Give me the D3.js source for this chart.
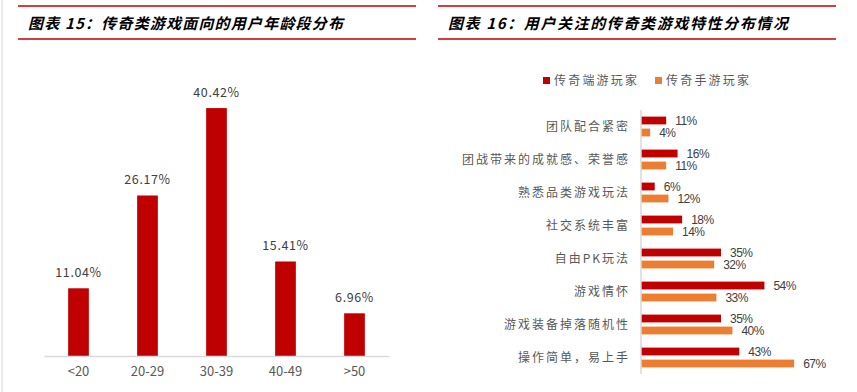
<!DOCTYPE html>
<html>
<head>
<meta charset="utf-8">
<script src="https://cdn.jsdelivr.net/npm/d3@7"></script>
<style>
  body { margin: 0; background: #fff; }
  text { font-family: "Noto Sans CJK SC", "Noto Sans", sans-serif; }
</style>
</head>
<body>
<script>
// chart data
var ageCats = ["<20", "20-29", "30-39", "40-49", ">50"];
var ageVals = [11.04, 26.17, 40.42, 15.41, 6.96];

var featureCats = ["团队配合紧密", "团战带来的成就感、荣誉感", "熟悉品类游戏玩法", "社交系统丰富",
  "自由PK玩法", "游戏情怀", "游戏装备掉落随机性", "操作简单，易上手"];
var pcVals = [11, 16, 6, 18, 35, 54, 35, 43];
var mobileVals = [4, 11, 12, 14, 32, 33, 40, 67];
var seriesNames = ["传奇端游玩家", "传奇手游玩家"];

var titles = ["图表 15：传奇类游戏面向的用户年龄段分布", "图表 16：用户关注的传奇类游戏特性分布情况"];

var red = "#C00000", orange = "#ED7D31", grey = "#595959";

var svg = d3.select("body").append("svg")
  .attr("width", 857)
  .attr("height", 392);

// left border line
svg.append("line")
  .attr("x1", 2).attr("x2", 2).attr("y1", 0).attr("y2", 392)
  .attr("stroke", "#d9d9d9").attr("stroke-width", 1);

// title blocks
var titleBoxes = [{x0: 18, x1: 416, tx: 28, tw: 315}, {x0: 438, x1: 836, tx: 448, tw: 340}];
titleBoxes.forEach(function(b, i) {
  [6, 39].forEach(function(y) {
    svg.append("line")
      .attr("x1", b.x0).attr("x2", b.x1).attr("y1", y).attr("y2", y)
      .attr("stroke", red).attr("stroke-width", 1.5);
  });
  svg.append("text")
    .attr("x", b.tx).attr("y", 29)
    .attr("textLength", b.tw)
    .attr("lengthAdjust", "spacing")
    .style("font-size", "15px")
    .style("font-weight", "bold")
    .style("font-style", "italic")
    .attr("fill", "#000")
    .text(titles[i]);
});

// ---- left: age distribution ----
var x = d3.scaleBand()
  .domain(ageCats)
  .range([44, 389])
  .paddingInner(0.7)
  .paddingOuter(0.35);

var y = d3.scaleLinear()
  .domain([0, 45])
  .range([356, 80]);

svg.selectAll(".ageBar")
  .data(ageVals)
  .enter().append("rect")
  .attr("class", "ageBar")
  .attr("x", function(d, i) { return x(ageCats[i]); })
  .attr("y", function(d) { return y(d); })
  .attr("width", x.bandwidth())
  .attr("height", function(d) { return y(0) - y(d); })
  .attr("fill", red);

svg.selectAll(".ageLbl")
  .data(ageVals)
  .enter().append("text")
  .attr("class", "ageLbl")
  .attr("x", function(d, i) { return x(ageCats[i]) + x.bandwidth() / 2; })
  .attr("y", function(d) { return y(d) - 11; })
  .attr("text-anchor", "middle")
  .style("font-size", "12.5px")
  .style("letter-spacing", "0.6px")
  .attr("fill", "#404040")
  .text(function(d) { return d.toFixed(2) + "%"; });

var xAxis = svg.append("g")
  .attr("transform", "translate(0,356)")
  .call(d3.axisBottom(x).tickSize(0).tickPadding(11));
xAxis.select(".domain").attr("stroke", "#d9d9d9").attr("stroke-width", 1.5);
xAxis.selectAll("text")
  .style("font-family", "\"Noto Sans CJK SC\", sans-serif")
  .style("font-size", "13px")
  .attr("fill", grey);

// ---- right: feature distribution ----
var xr = d3.scaleLinear()
  .domain([0, 70])
  .range([641, 801]);

var yr = d3.scaleBand()
  .domain(featureCats)
  .range([110, 374])
  .paddingInner(0.4)
  .paddingOuter(0.2);

var ys = d3.scaleBand()
  .domain(seriesNames)
  .range([0, yr.bandwidth()])
  .paddingInner(0.35);

var seriesVals = [pcVals, mobileVals];
var seriesColors = [red, orange];

seriesNames.forEach(function(name, s) {
  svg.selectAll(".bar" + s)
    .data(seriesVals[s])
    .enter().append("rect")
    .attr("class", "bar" + s)
    .attr("x", xr(0))
    .attr("y", function(d, i) { return yr(featureCats[i]) + ys(name); })
    .attr("width", function(d) { return xr(d) - xr(0); })
    .attr("height", ys.bandwidth())
    .attr("fill", seriesColors[s]);

  svg.selectAll(".val" + s)
    .data(seriesVals[s])
    .enter().append("text")
    .attr("class", "val" + s)
    .attr("x", function(d) { return xr(d) + 9; })
    .attr("y", function(d, i) { return yr(featureCats[i]) + ys(name) + ys.bandwidth() / 2; })
    .attr("dy", "0.36em")
    .style("font-family", "\"Liberation Sans\", Arial, sans-serif")
    .style("font-size", "12px")
    .style("letter-spacing", "-0.5px")
    .attr("fill", "#404040")
    .text(function(d) { return d + "%"; });
});

// vertical axis line
svg.append("line")
  .attr("x1", 641).attr("x2", 641).attr("y1", 110).attr("y2", 374)
  .attr("stroke", "#d9d9d9").attr("stroke-width", 1.5);

svg.selectAll(".catLbl")
  .data(featureCats)
  .enter().append("text")
  .attr("class", "catLbl")
  .attr("x", 630)
  .attr("y", function(d) { return yr(d) + yr.bandwidth() / 2; })
  .attr("dy", "0.36em")
  .attr("text-anchor", "end")
  .style("font-size", "12px")
  .style("letter-spacing", "2px")
  .attr("fill", grey)
  .text(function(d) { return d; });

// legend
var legendX = [543, 655];
seriesNames.forEach(function(name, s) {
  svg.append("rect")
    .attr("x", legendX[s]).attr("y", 77)
    .attr("width", 7).attr("height", 7)
    .attr("fill", seriesColors[s]);
  svg.append("text")
    .attr("x", legendX[s] + 11).attr("y", 81)
    .attr("dy", "0.36em")
    .style("font-size", "12px")
    .style("letter-spacing", "2.2px")
    .attr("fill", grey)
    .text(name);
});
</script>
</body>
</html>
